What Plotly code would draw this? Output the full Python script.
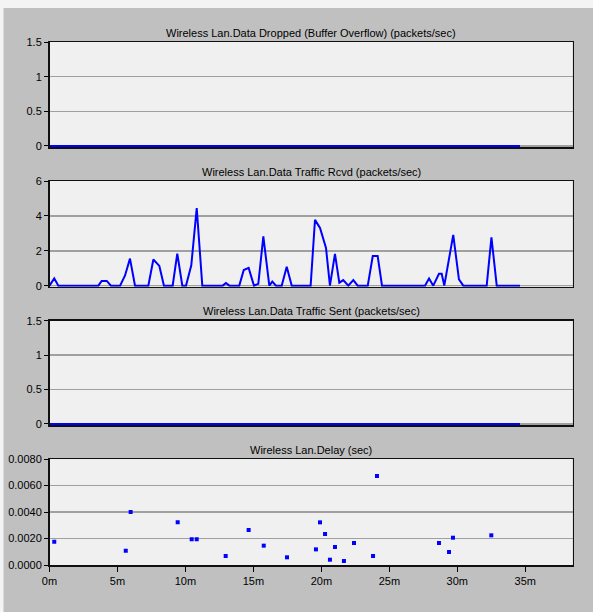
import plotly.graph_objects as go

# ---- data (time in minutes) ----
dropped_t = [0.0, 34.61]
dropped_v = [0.0, 0.0]

sent_t = [0.0, 34.61]
sent_v = [0.0, 0.0]

rcvd_t = [0.00, 0.35, 0.65, 3.59, 3.84, 4.21, 4.52, 5.19, 5.55, 5.92, 6.29,
          7.27, 7.64, 8.08, 8.42, 9.06, 9.40, 9.77, 10.04, 10.43, 10.83, 11.24,
          12.74, 12.98, 13.23, 13.96, 14.29, 14.65, 15.04, 15.36, 15.73, 16.17,
          16.39, 16.66, 17.08, 17.45, 17.82, 19.21, 19.53, 19.90, 20.34, 20.63,
          21.00, 21.32, 21.61, 21.98, 22.35, 22.67, 23.41, 23.78, 24.14, 24.46,
          27.62, 27.92, 28.23, 28.65, 28.85, 29.04, 29.70, 30.12, 30.44, 32.16,
          32.51, 32.90, 34.61]
rcvd_v = [0.0, 0.42, 0.0, 0.0, 0.27, 0.27, 0.0, 0.0, 0.57, 1.55, 0.0,
          0.0, 1.50, 1.13, 0.0, 0.0, 1.84, 0.0, 0.0, 1.17, 4.45, 0.0,
          0.0, 0.15, 0.0, 0.0, 0.90, 1.02, 0.0, 0.10, 2.82, 0.0,
          0.23, 0.0, 0.0, 1.08, 0.0, 0.0, 3.77, 3.31, 2.16, 0.0,
          1.82, 0.17, 0.32, 0.0, 0.32, 0.0, 0.0, 1.70, 1.70, 0.0,
          0.0, 0.41, 0.0, 0.68, 0.68, 0.0, 2.91, 0.36, 0.0, 0.0,
          2.77, 0.0, 0.0]

delay_t = [0.35, 5.61, 5.97, 9.43, 10.46, 10.83, 12.96, 14.65, 15.76, 17.47,
           19.60, 19.90, 20.27, 20.63, 21.00, 21.66, 22.40, 23.80, 24.09,
           28.65, 29.39, 29.68, 32.50]
delay_v = [0.00176, 0.00108, 0.0040, 0.00322, 0.00194, 0.00194, 0.00068,
           0.00264, 0.00146, 0.00058, 0.00118, 0.00322, 0.00234, 0.0004,
           0.00136, 0.0003, 0.00166, 0.00068, 0.00672, 0.00166, 0.00098,
           0.00206, 0.00224]

titles = ["Wireless Lan.Data Dropped (Buffer Overflow) (packets/sec)",
          "Wireless Lan.Data Traffic Rcvd (packets/sec)",
          "Wireless Lan.Data Traffic Sent (packets/sec)",
          "Wireless Lan.Delay (sec)"]

x_tickvals = [0, 5, 10, 15, 20, 25, 30, 35]
x_ticktext = ["0m", "5m", "10m", "15m", "20m", "25m", "30m", "35m"]

y1_ticks = [0, 0.5, 1, 1.5]
y1_text = ["0", "0.5", "1", "1.5"]
y2_ticks = [0, 2, 4, 6]
y2_text = ["0", "2", "4", "6"]
y4_ticks = [0, 0.002, 0.004, 0.006, 0.008]
y4_text = ["0.0000", "0.0020", "0.0040", "0.0060", "0.0080"]

# ---- layout geometry ----
W, H = 593, 612
FONT = "Liberation Sans"
BLUE = "#0000ff"
panels_px = [(42, 147), (181, 286.7), (320.7, 425), (459, 565)]
xdom = [49.5 / W, 572.7 / W]
xmax = (572.7 - 49.5) / 13.594

fig = go.Figure()

series = [(dropped_t, dropped_v, "lines"), (rcvd_t, rcvd_v, "lines"),
          (sent_t, sent_v, "lines"), (delay_t, delay_v, "markers")]

for i, (t, v, mode) in enumerate(series):
    ax = "" if i == 0 else str(i + 1)
    if mode == "lines":
        fig.add_trace(go.Scatter(x=t, y=v, mode="lines",
                                 line=dict(color=BLUE, width=2),
                                 xaxis="x" + ax, yaxis="y" + ax,
                                 showlegend=False, hoverinfo="skip"))
    else:
        fig.add_trace(go.Scatter(x=t, y=v, mode="markers",
                                 marker=dict(color=BLUE, size=4, symbol="square",
                                             line=dict(width=0)),
                                 xaxis="x" + ax, yaxis="y" + ax,
                                 showlegend=False, hoverinfo="skip"))

yranges = [[-0.015, 1.5], [-0.06, 6], [-0.015, 1.5], [0, 0.008]]
yticks = [(y1_ticks, y1_text), (y2_ticks, y2_text), (y1_ticks, y1_text), (y4_ticks, y4_text)]

layout = dict(width=W, height=H, autosize=False, margin=dict(l=0, r=0, t=0, b=0, pad=0),
              paper_bgcolor="#c0c0c0", plot_bgcolor="#f0f0f0",
              font=dict(family=FONT, size=11, color="#000000"))

annotations = []
for i, (top, bot) in enumerate(panels_px):
    ax = "" if i == 0 else str(i + 1)
    last = (i == 3)
    layout["xaxis" + ax] = dict(
        domain=xdom, range=[0, xmax], anchor="y" + ax, automargin=False,
        tickvals=x_tickvals, ticktext=x_ticktext if last else [""] * len(x_tickvals),
        showticklabels=last, ticks="outside" if last else "", ticklen=5,
        tickcolor="#000000", showgrid=False, zeroline=False,
        showline=True, linecolor="#101010", linewidth=1.5, mirror=True,
        tickfont=dict(family=FONT, size=11, color="#000000"))
    tv, tt = yticks[i]
    layout["yaxis" + ax] = dict(
        domain=[1 - bot / H, 1 - top / H], range=yranges[i], anchor="x" + ax,
        automargin=False,
        tickvals=tv, ticktext=tt, ticks="outside", ticklen=4, tickcolor="#000000",
        showgrid=True, gridcolor="#a0a0a0", gridwidth=1.5, zeroline=False,
        showline=True, linecolor="#101010", linewidth=1.5, mirror=True,
        tickfont=dict(family=FONT, size=11, color="#000000"))
    annotations.append(dict(text=titles[i], xref="paper", yref="paper",
                            x=(xdom[0] + xdom[1]) / 2, y=1 - (top - 9.5) / H,
                            xanchor="center", yanchor="middle", showarrow=False,
                            font=dict(family=FONT, size=11, color="#000000")))

layout["annotations"] = annotations
layout["shapes"] = [
    dict(type="rect", xref="paper", yref="paper", x0=0, x1=1,
         y0=1 - 8 / H, y1=1, fillcolor="#f4f4f4", line=dict(width=0), layer="above"),
    dict(type="rect", xref="paper", yref="paper", x0=0, x1=3.5 / W,
         y0=0, y1=1, fillcolor="#f4f4f4", line=dict(width=0), layer="above"),
]
fig.update_layout(**layout)
fig.write_html("out.html",
               config={"displayModeBar": False, "staticPlot": True},
               post_script="document.body.style.margin='0';"
                           "document.body.style.padding='0';"
                           "document.documentElement.style.overflow='hidden';")
